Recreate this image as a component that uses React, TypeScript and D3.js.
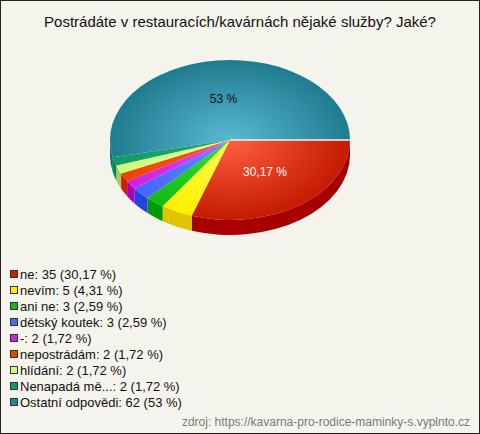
import React from "react";
import * as d3 from "d3";

const categories = ["ne", "nevím", "ani ne", "dětský koutek", "-", "nepostrádám", "hlídání", "Nenapadá mě...", "Ostatní odpovědi"];
const values = [35, 5, 3, 3, 2, 2, 2, 2, 62];
const percentLabels = ["30,17 %", "4,31 %", "2,59 %", "2,59 %", "1,72 %", "1,72 %", "1,72 %", "1,72 %", "53 %"];
const topLight = ["#ff6040", "#ffff55", "#33e033", "#6688ff", "#dd44ff", "#ff5522", "#ddff99", "#22aa77", "#5ab9d0"];
const topDark = ["#c41a00", "#ffee00", "#11bb11", "#4466ff", "#cc22dd", "#ee4400", "#ccff77", "#119966", "#1f7b90"];
const sideColors = ["#a80000", "#e0c400", "#009900", "#2244dd", "#aa00bb", "#cc2200", "#aacc55", "#008855", "#166a7c"];
const legendColors = ["#cc2200", "#ffee00", "#11bb11", "#4466ff", "#cc22dd", "#ee4400", "#ccff88", "#119966", "#228899"];
const shownLabels = [true, false, false, false, false, false, false, false, true];
const labelColors = ["#ffffff", "#000", "#000", "#000", "#000", "#000", "#000", "#000", "#111111"];

const W = 480, H = 434;
const cx = 230, cy = 140, rx = 120, ry = 80, depth = 15;
const font = "'Liberation Sans', Arial, Helvetica, sans-serif";

export default function App() {
  const pie = d3.pie<number>().sort(null).startAngle(Math.PI / 2).endAngle(Math.PI / 2 + 2 * Math.PI);
  const arcs = pie(values);
  const arc = d3.arc<d3.PieArcDatum<number>>().innerRadius(0).outerRadius(rx);
  const sy = ry / rx;
  const pt = (t: number, dy = 0): [number, number] => [cx + rx * Math.sin(t), cy - ry * Math.cos(t) + dy];

  const walls = arcs.map((a, i) => {
    const s = Math.max(a.startAngle, Math.PI / 2);
    const e = Math.min(a.endAngle, (3 * Math.PI) / 2);
    if (e <= s) return null;
    const p0 = pt(s), p1 = pt(e), q1 = pt(e, depth), q0 = pt(s, depth);
    const large = e - s > Math.PI ? 1 : 0;
    const d = `M${p0[0]},${p0[1]} A${rx},${ry} 0 ${large} 1 ${p1[0]},${p1[1]} L${q1[0]},${q1[1]} A${rx},${ry} 0 ${large} 0 ${q0[0]},${q0[1]} Z`;
    return <path key={"w" + i} d={d} fill={sideColors[i]} />;
  });

  const edge = pt(Math.PI / 2);

  return (
    <svg width={W} height={H} style={{ position: "absolute", left: 0, top: 0, display: "block" }} fontFamily={font}>
      <defs>
        {arcs.map((a, i) => (
          <radialGradient key={"g" + i} id={"g" + i} gradientUnits="userSpaceOnUse" cx={0} cy={0} r={rx}>
            <stop offset="0%" stopColor={topLight[i]} />
            <stop offset="100%" stopColor={topDark[i]} />
          </radialGradient>
        ))}
      </defs>
      <rect x={0.5} y={0.5} width={W - 1} height={H - 1} fill="#f5f4ec" stroke="#222" />
      <text x={240} y={27} textAnchor="middle" fontSize={15} fill="#111">
        Postrádáte v restauracích/kavárnách nějaké služby? Jaké?
      </text>
      {walls}
      <g transform={`translate(${cx},${cy}) scale(1,${sy})`}>
        {arcs.map((a, i) => (
          <path key={"t" + i} d={arc(a) || ""} fill={`url(#g${i})`} />
        ))}
      </g>
      <line x1={cx} y1={cy} x2={edge[0]} y2={edge[1]} stroke="#f4f4f0" strokeWidth={1.5} />
      {arcs.map((a, i) => {
        if (!shownLabels[i]) return null;
        const [x, y] = arc.centroid(a);
        return (
          <text key={"l" + i} x={cx + x} y={cy + y * sy} textAnchor="middle" dominantBaseline="middle" fontSize={12} fill={labelColors[i]}>
            {percentLabels[i]}
          </text>
        );
      })}
      {categories.map((c, i) => (
        <g key={"lg" + i} transform={`translate(10,${270 + i * 16})`}>
          <rect x={0.5} y={0.5} width={7} height={7} fill={legendColors[i]} stroke="#333" />
          <text x={10} y={9} fontSize={13} fill="#111">
            {`${c}: ${values[i]} (${percentLabels[i]})`}
          </text>
        </g>
      ))}
      <text x={470} y={426} textAnchor="end" fontSize={12} fill="#7a7a7a">
        zdroj: https://kavarna-pro-rodice-maminky-s.vyplnto.cz
      </text>
    </svg>
  );
}
